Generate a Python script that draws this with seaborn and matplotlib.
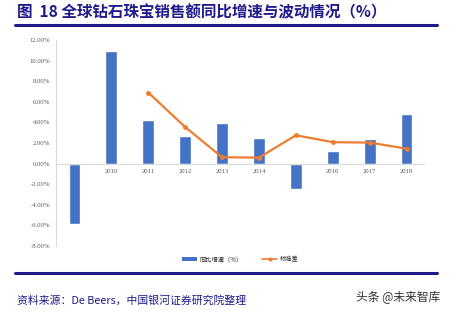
import matplotlib
matplotlib.use("Agg")
import matplotlib.pyplot as plt
import seaborn as sns
import pandas as pd
from matplotlib.lines import Line2D
from matplotlib.patches import Patch
from matplotlib.ticker import FuncFormatter
import matplotlib.transforms as mtransforms

years = ["2009", "2010", "2011", "2012", "2013", "2014", "2015", "2016", "2017", "2018"]
growth = [-5.9, 10.9, 4.2, 2.65, 3.9, 2.5, -2.5, 1.25, 2.4, 4.8]
std_years = ["2011", "2012", "2013", "2014", "2015", "2016", "2017", "2018"]
std_vals = [6.9, 3.55, 0.62, 0.58, 2.75, 2.08, 2.04, 1.45]
yticks = [-8, -6, -4, -2, 0, 2, 4, 6, 8, 10, 12]

title = "图  18 全球钻石珠宝销售额同比增速与波动情况（%）"
legend_bar = "同比增速（%）"
legend_line = "标准差"
source = "资料来源：De Beers，中国银河证券研究院整理"
watermark = "头条 @未来智库"

sns.set_theme(style="white")
plt.rcParams['font.family'] = ['Noto Sans CJK SC', 'DejaVu Sans']

BLUE = "#4472C4"
ORANGE = "#ED7D31"
NAVY = "#1F1A8A"

fig = plt.figure(figsize=(4.49, 3.14), dpi=100)
ax = fig.add_axes([56/449, 1-246/314, (425-56)/449, (246-40)/314])

df = pd.DataFrame({"year": years, "growth": growth})
sns.barplot(data=df, x="year", y="growth", color=BLUE, width=0.32, ax=ax, order=years, saturation=1)

pos = [years.index(y) for y in std_years]
ax.plot(pos, std_vals, color=ORANGE, lw=1.6, marker="o", ms=2.5, zorder=5)

ax.set_ylim(-8, 12)
ax.set_xlim(-0.5, len(years)-0.5)
ax.set_yticks(yticks)
ax.yaxis.set_major_formatter(FuncFormatter(lambda v, p: f"{v:.2f}%"))
for lab in ax.get_yticklabels():
    lab.set_fontfamily("Liberation Serif")
    lab.set_fontsize(4.8)
    lab.set_color("#595959")
ax.tick_params(axis="y", length=0, pad=4)
ax.set_xticks([])
ax.set_xlabel("")
ax.set_ylabel("")
for s in ["top", "right", "bottom"]:
    ax.spines[s].set_visible(False)
ax.spines["left"].set_color("#D9D9D9")
ax.spines["left"].set_linewidth(0.8)
ax.axhline(0, color="#D9D9D9", lw=0.8, zorder=1)

off = mtransforms.offset_copy(ax.transData, fig=fig, x=0, y=-4, units="points")
for i, y in enumerate(years):
    ax.text(i, 0, y, transform=off, ha="center", va="top", fontsize=4.8,
            family="Liberation Serif", color="#595959", zorder=0)

handles = [Patch(facecolor=BLUE, edgecolor="none"),
           Line2D([0], [0], color=ORANGE, lw=1.2, marker="o", ms=2)]
fig.legend(handles, [legend_bar, legend_line], loc="center", bbox_to_anchor=(0.535, 1-259/314),
           ncol=2, frameon=False, fontsize=4.5, handlelength=2.5, handleheight=0.5,
           columnspacing=3.0, handletextpad=0.4)

fig.text(17/449, 1-12/314, title, fontsize=11.2, fontweight="bold", color=NAVY, va="center", ha="left")
fig.add_artist(Line2D([15/449, 437/449], [1-25/314, 1-25/314], color=NAVY, lw=2.2))
fig.add_artist(Line2D([15/449, 437/449], [1-273/314, 1-273/314], color=NAVY, lw=2.2))
fig.text(17/449, 1-300/314, source, fontsize=7.8, style="italic", color=NAVY, va="center", ha="left")
fig.text(440/449, 1-298/314, watermark, fontsize=8.5, color="#333333", va="center", ha="right")

fig.savefig("out.png", dpi=100)
